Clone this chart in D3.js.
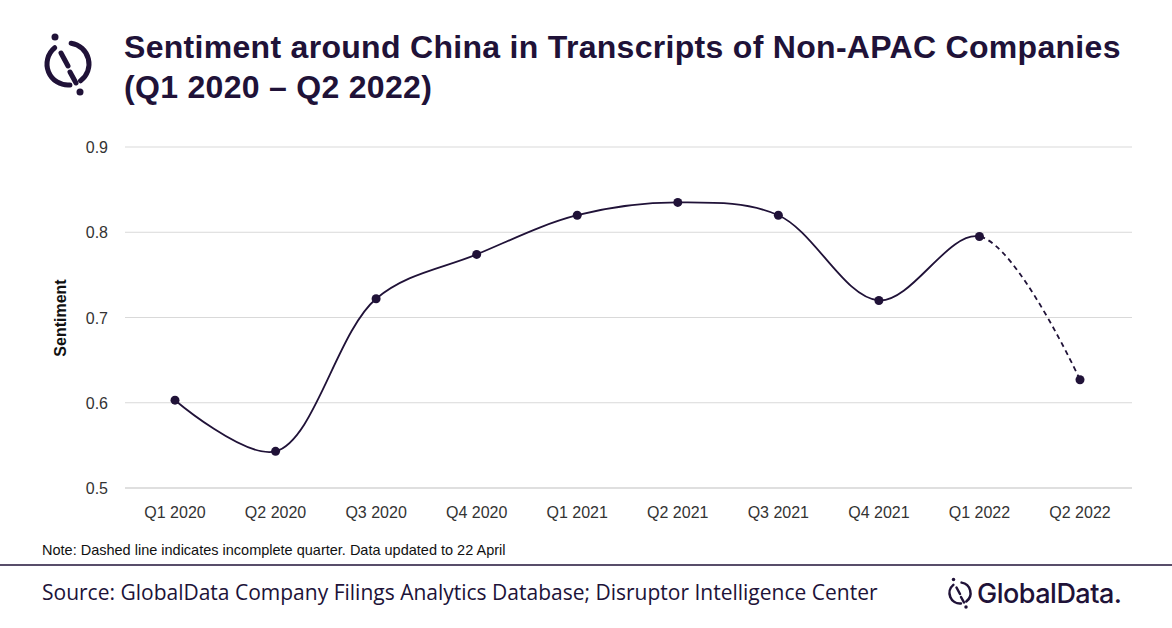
<!DOCTYPE html>
<html><head><meta charset="utf-8">
<script src="https://cdn.jsdelivr.net/npm/d3@7"></script>
<style>body{margin:0;background:#fff}</style>
</head><body><svg id="c" width="1172" height="628"></svg>
<script>
const categories=["Q1 2020","Q2 2020","Q3 2020","Q4 2020","Q1 2021","Q2 2021","Q3 2021","Q4 2021","Q1 2022","Q2 2022"];
const sentiment=[0.603,0.543,0.722,0.774,0.820,0.835,0.820,0.720,0.795,0.627];
const yTicks=[0.5,0.6,0.7,0.8,0.9];
const dark="#201238";
const svg=d3.select("#c");
const F="'Liberation Sans',Arial,sans-serif";
function logo(g,s){
  const r=21*s, sw=5*s;
  const arcP=(a0,a1)=>{const p=d3.path();p.arc(0,0,r,a0-Math.PI/2,a1-Math.PI/2);return p.toString();};
  [[0.15,2.5],[3.05,5.6]].forEach(a=>g.append("path").attr("d",arcP(a[0],a[1])).attr("fill","none").attr("stroke",dark).attr("stroke-width",sw).attr("stroke-linecap","round"));
  g.append("line").attr("x1",-7*s).attr("y1",-11*s).attr("x2",0).attr("y2",2*s).attr("stroke",dark).attr("stroke-width",sw).attr("stroke-linecap","round");
  g.append("line").attr("x1",2*s).attr("y1",8*s).attr("x2",8*s).attr("y2",19*s).attr("stroke",dark).attr("stroke-width",sw).attr("stroke-linecap","round");
  g.append("circle").attr("cx",-13*s).attr("cy",-27*s).attr("r",3.5*s).attr("fill",dark);
  g.append("circle").attr("cx",12*s).attr("cy",28*s).attr("r",3.5*s).attr("fill",dark);
}
logo(svg.append("g").attr("transform","translate(68,64)"),1);
svg.append("text").attr("x",124).attr("y",58).attr("fill",dark).attr("font-family",F).attr("font-weight","bold").attr("font-size",32).attr("letter-spacing",0.3).text("Sentiment around China in Transcripts of Non-APAC Companies");
svg.append("text").attr("x",124).attr("y",98).attr("fill",dark).attr("font-family",F).attr("font-weight","bold").attr("font-size",32).attr("letter-spacing",0.3).text("(Q1 2020 – Q2 2022)");
const x=d3.scalePoint().domain(categories).range([175,1080]);
const y=d3.scaleLinear().domain([0.5,0.9]).range([488,147]);
const g=svg.append("g");
yTicks.forEach(t=>{
  g.append("line").attr("x1",125).attr("x2",1132).attr("y1",y(t)).attr("y2",y(t)).attr("stroke",t==0.5?"#bfbfbf":"#d9d9d9").attr("stroke-width",1);
  g.append("text").attr("x",108).attr("y",y(t)+6).attr("text-anchor","end").attr("font-family",F).attr("font-size",16).attr("fill","#333").text(t.toFixed(1));
});
categories.forEach(c=>g.append("text").attr("x",x(c)).attr("y",518).attr("text-anchor","middle").attr("font-family",F).attr("font-size",16).attr("fill","#333").text(c));
svg.append("text").attr("transform","translate(66,318) rotate(-90)").attr("text-anchor","middle").attr("font-family",F).attr("font-weight","bold").attr("font-size",16).attr("fill","#111").text("Sentiment");
const pts=categories.map((c,i)=>[x(c),y(sentiment[i])]);
const curve=d3.line().curve(d3.curveCatmullRom.alpha(0.5))(pts);
svg.append("clipPath").attr("id","cl").append("rect").attr("x",0).attr("y",0).attr("width",x("Q1 2022")).attr("height",628);
svg.append("clipPath").attr("id","cr").append("rect").attr("x",x("Q1 2022")).attr("y",0).attr("width",400).attr("height",628);
svg.append("path").attr("d",curve).attr("fill","none").attr("stroke",dark).attr("stroke-width",1.8).attr("clip-path","url(#cl)");
svg.append("path").attr("d",curve).attr("fill","none").attr("stroke",dark).attr("stroke-width",1.8).attr("stroke-dasharray","5,4").attr("clip-path","url(#cr)");
pts.forEach(p=>svg.append("circle").attr("cx",p[0]).attr("cy",p[1]).attr("r",4.5).attr("fill",dark));
svg.append("text").attr("x",42).attr("y",555).attr("font-family",F).attr("font-size",14.5).attr("fill","#111").text("Note: Dashed line indicates incomplete quarter. Data updated to 22 April");
svg.append("line").attr("x1",0).attr("x2",1172).attr("y1",565).attr("y2",565).attr("stroke",dark).attr("stroke-width",1.5);
svg.append("text").attr("x",42).attr("y",600).attr("font-family","'Open Sans',sans-serif").attr("font-size",21).attr("fill",dark).text("Source: GlobalData Company Filings Analytics Database; Disruptor Intelligence Center");
logo(svg.append("g").attr("transform","translate(960,593)"),0.5);
svg.append("text").attr("x",977).attr("y",603).attr("font-family","Inter,'Noto Sans',sans-serif").attr("font-size",27).attr("font-weight",500).attr("letter-spacing",-0.5).attr("fill",dark).text("GlobalData.");
</script></body></html>
